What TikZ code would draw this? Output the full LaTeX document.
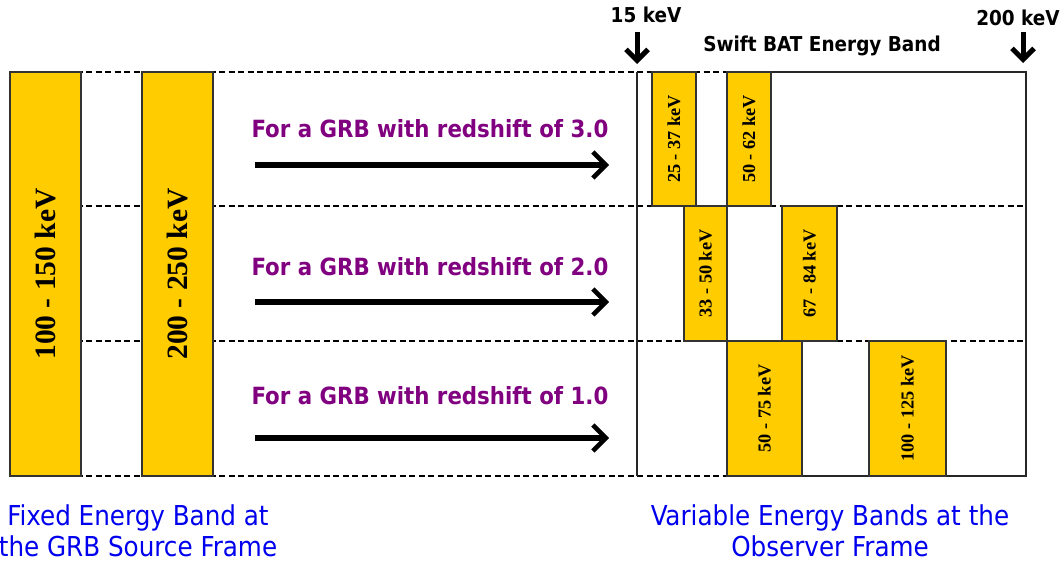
\documentclass[tikz,border=0pt]{standalone}
\usepackage{fontspec}
\setmainfont{Liberation Serif}
\newfontfamily\tahoma{DejaVu Sans Condensed}
\usetikzlibrary{arrows.meta}
\definecolor{bandyellow}{RGB}{255,204,0}
\definecolor{grbpurple}{RGB}{128,0,128}
\definecolor{frameblue}{RGB}{0,0,238}
\tikzset{
  band/.style={draw=black!80, line width=1.2pt, fill=bandyellow, inner sep=0pt, rotate=90, font=\bfseries\fontsize{18.3}{18}\selectfont},
  bigband/.style={band, font=\bfseries\fontsize{29.5}{30}\selectfont},
  grid/.style={black, line width=2.3pt, dash pattern=on 6pt off 3.5pt},
  bigarrow/.style={line width=6pt, -{Straight Barb[length=13pt, width=26pt, line width=4.5pt]}},
  downarrow/.style={line width=5pt, -{Straight Barb[length=11pt, width=22pt, line width=5pt]}},
  shift text/.style={text=grbpurple, inner sep=0pt, font=\tahoma\bfseries\fontsize{23.7}{24}\selectfont},
  keV text/.style={inner sep=0pt, font=\tahoma\bfseries\fontsize{20.5}{20}\selectfont},
  frame text/.style={text=frameblue, align=center, inner sep=0pt, font=\tahoma\fontsize{27.4}{31.5}\selectfont}
}
\begin{document}
\begin{tikzpicture}[x=1pt, y=-1pt]
  \useasboundingbox (0,0) rectangle (1060,565);
  % dashed rows
  \coordinate (tl) at (10,72);    \coordinate (tr) at (727,72);
  \coordinate (bl) at (10,476);   \coordinate (br) at (727,476);
  \coordinate (m1l) at (10,206);  \coordinate (m1r) at (1026,206);
  \coordinate (m2l) at (10,341);  \coordinate (m2r) at (1026,341);
  \draw[grid] (tl) -- (tr);
  \draw[grid] (bl) -- (br);
  \draw[grid] (m1l) -- (m1r);
  \draw[grid] (m2l) -- (m2r);
  % BAT frame
  \coordinate (fa) at (637,72);  \coordinate (fb) at (637,476);
  \draw[black!85, line width=1.6pt] (tr) -| (1026,476) -- (br);
  \draw[black!85, line width=1.6pt] (fa) -- (fb);
  % source frame bands
  \node[bigband, minimum width=404pt, minimum height=71pt] (src1) at (45.5,274) {100 - 150 keV};
  \node[bigband, minimum width=404pt, minimum height=71pt] (src2) at (177.5,274) {200 - 250 keV};
  % observer frame bands
  \node[band, minimum width=134pt, minimum height=44pt] (z3a) at (674,139) {25 - 37 keV};
  \node[band, minimum width=134pt, minimum height=44pt] (z3b) at (749,139) {50 - 62 keV};
  \node[band, minimum width=135pt, minimum height=43pt] (z2a) at (705.5,273.5) {33 - 50 keV};
  \node[band, minimum width=135pt, minimum height=55pt] (z2b) at (809.5,273.5) {67 - 84 keV};
  \node[band, minimum width=135pt, minimum height=75pt] (z1a) at (764.5,408.5) {50 - 75 keV};
  \node[band, minimum width=135pt, minimum height=77pt] (z1b) at (907.5,408.5) {100 - 125 keV};
  % redshift arrows
  \node[shift text] (t3) at (430,129) {For a GRB with redshift of 3.0};
  \node[shift text] (t2) at (430,267) {For a GRB with redshift of 2.0};
  \node[shift text] (t1) at (430,396) {For a GRB with redshift of 1.0};
  \coordinate (a3s) at (255,165); \coordinate (a3e) at (609,165);
  \coordinate (a2s) at (255,302); \coordinate (a2e) at (609,302);
  \coordinate (a1s) at (255,438); \coordinate (a1e) at (609,438);
  \draw[bigarrow] (a3s) -- (a3e);
  \draw[bigarrow] (a2s) -- (a2e);
  \draw[bigarrow] (a1s) -- (a1e);
  % BAT limits
  \node[keV text] (low) at (646,15) {15 keV};
  \node[keV text] (high) at (1018,18) {200 keV};
  \node[keV text] (bat) at (822,46) {Swift BAT Energy Band};
  \coordinate (lowtop) at (637,32);  \coordinate (lowtip) at (637,64);
  \coordinate (hightop) at (1023,32); \coordinate (hightip) at (1023,63);
  \draw[downarrow] (lowtop) -- (lowtip);
  \draw[downarrow] (hightop) -- (hightip);
  % captions
  \node[frame text] (src) at (138,531) {Fixed Energy Band at\\the GRB Source Frame};
  \node[frame text] (obs) at (830,531) {Variable Energy Bands at the\\Observer Frame};
\end{tikzpicture}
\end{document}
